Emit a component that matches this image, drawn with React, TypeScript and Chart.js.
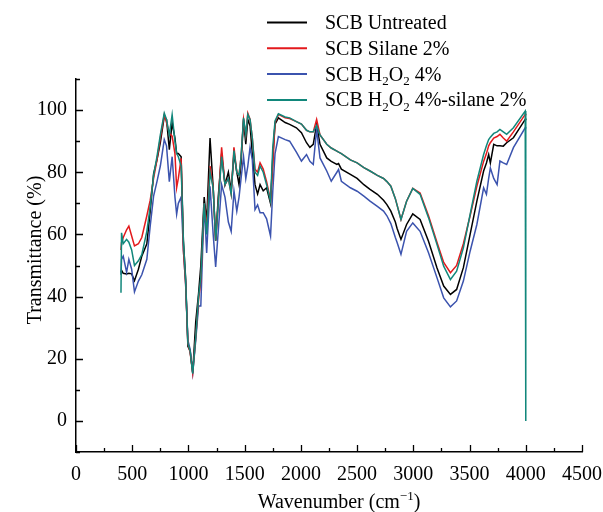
import React, { useEffect, useRef } from "react";
import { Chart, registerables } from "chart.js";
Chart.register(...registerables);

const wavenumbers = [
  400, 405, 420, 450, 470, 495, 520, 555, 585, 630,
  660, 690, 720, 750, 785, 805, 830, 855, 880, 895,
  910, 935, 955, 975, 995, 1015, 1038, 1065, 1090, 1110,
  1140, 1162, 1192, 1220, 1242, 1265, 1295, 1325, 1355, 1380,
  1405, 1430, 1450, 1468, 1490, 1510, 1528, 1548, 1568, 1592,
  1615, 1637, 1665, 1695, 1730, 1750, 1770, 1800, 1860, 1900,
  1960, 2005, 2050, 2080, 2110, 2140, 2170, 2230, 2270, 2320,
  2335, 2360, 2440, 2500, 2560, 2615, 2680, 2735, 2765, 2800,
  2840, 2855, 2890, 2940, 2995, 3060, 3135, 3210, 3270, 3330,
  3385, 3445, 3505, 3565, 3625, 3650, 3670, 3685, 3715, 3745,
  3770, 3800, 3830, 3890, 3995, 4000,
];

const untreated = [
  47.8, 48.5, 47.5, 47.3, 47.5, 47.3, 45.1, 48.8, 53, 57,
  67.5, 79.5, 84, 89.5, 98, 97, 87.3, 95.9, 91, 86,
  86, 85, 58, 46, 24, 22.5, 15.5, 32, 41, 50,
  72, 64, 91, 75, 58, 72, 86, 76, 80, 74,
  86, 80, 76, 83, 97, 89, 97, 95, 86, 76,
  73, 76, 74, 75, 70, 85, 95.5, 97.5, 96, 95.4,
  94.3, 92.7, 89.5, 88, 89, 95.4, 89, 84.6, 83.5, 82.5,
  82.8, 81, 79.3, 78, 76, 74.5, 72.9, 71, 69.6, 67.5,
  64, 62, 58.4, 63.2, 66.6, 64.8, 57.8, 49.3, 43.4, 40.7,
  42.3, 49.3, 60, 70.7, 80.4, 83, 85.7, 83, 89, 88.5,
  88.5, 88.4, 89.5, 91.1, 97, 97.3,
];

const silane2 = [
  55, 57.4, 59, 61.5, 62.7, 59.5, 56.3, 57, 59, 66,
  71, 78, 84, 91, 98.5, 96, 92.5, 91.6, 86, 75,
  78, 84.5, 55, 44, 25, 22, 15.5, 27, 39, 45,
  70, 62, 82, 75, 58, 70, 88, 76, 78, 73,
  88, 80, 79, 85, 97, 92, 99, 97, 91, 81,
  80, 83, 81, 77, 71, 82, 96, 98.6, 97.5, 97.3,
  96.3, 95.5, 93.5, 93, 93, 97, 92, 89, 87.8, 86.8,
  86.5, 86, 84, 83, 81.5, 80.4, 79, 78, 77, 75.5,
  71.5, 69.5, 64.8, 70.7, 74.8, 73.3, 66, 57.5, 51, 47.7,
  50, 57, 66, 75.5, 83.5, 86, 88.5, 89.5, 91, 91.5,
  92.2, 91, 90, 93, 98.6, 98.8,
];

const h2o2 = [
  47, 52, 53, 47.8, 52, 48.8, 41.5, 45, 47, 52,
  62.7, 72.3, 77, 82, 90.5, 88.5, 77, 85, 72, 66.5,
  70, 72, 55, 44, 26, 23, 15.5, 26, 37, 37,
  70, 54, 75.5, 60, 49.5, 61, 76, 72, 64, 61,
  74, 67.5, 72, 78, 85, 78, 82, 88, 84, 68,
  69.5, 67, 67, 65, 59.5, 74, 86, 91.5, 90.5, 90,
  86.5, 83.6, 85.7, 83.5, 82.5, 93.8, 84.6, 80.4, 77.1, 80,
  80.9, 77.1, 75, 73.9, 72.3, 70.7, 69, 67.5, 66, 63.5,
  59, 57.5, 53.6, 61, 63.7, 61, 54.1, 46.1, 39.6, 36.7,
  38.6, 45, 54.6, 63.2, 75, 72.9, 78, 81.4, 78, 76,
  83.6, 83, 82.5, 87.9, 94.3, 94.5,
];

const h2o2Silane = [
  41.2, 60.5, 57, 58.4, 57.5, 55, 50, 51.5, 53.5, 61,
  69, 79, 85, 92, 99, 97, 92, 98.5, 90, 86,
  85, 82, 58, 45, 25, 22.5, 15.2, 27, 40, 46,
  70, 60, 80, 75, 58, 70, 85, 76, 78, 73,
  87, 80, 79, 85, 97.5, 92, 98.6, 97, 91, 80,
  79, 82, 80, 76, 70.7, 88, 96.5, 98.8, 97.8, 97.5,
  96.3, 95.5, 93.5, 93, 93, 95, 92, 89, 87.8, 86.8,
  86.5, 86, 84, 83, 81.5, 80.4, 79, 78, 77, 75.5,
  71.5, 69.5, 64.8, 70.7, 74.8, 72.9, 65.4, 56.8, 49.8, 45.5,
  48.2, 55.7, 66.4, 77.1, 85.7, 88.5, 90.5, 91.3, 92.5, 93,
  93.8, 93, 92.2, 94.3, 99.7, 0,
];

const seriesLabels = [
  "SCB Untreated",
  "SCB Silane 2%",
  "SCB H₂O₂ 4%",
  "SCB H₂O₂ 4%-silane 2%",
];
const seriesValues = [untreated, silane2, h2o2, h2o2Silane];
const seriesColors = ["#000000", "#e3191c", "#3b53ae", "#11877b"];
const seriesOrder = [3, 1, 2, 0];

const xTickValues = [0, 500, 1000, 1500, 2000, 2500, 3000, 3500, 4000, 4500];
const xMinorTickValues = [250, 750, 1250, 1750, 2250, 2750, 3250, 3750, 4250];
const yTickValues = [0, 20, 40, 60, 80, 100];
const yMinorTickValues = [-10, 10, 30, 50, 70, 90, 110];

const xAxisTitle = "Wavenumber (cm⁻¹)";
const yAxisTitle = "Transmittance (%)";

const FONT = "'Liberation Serif', 'Times New Roman', serif";

type Seg = { t: string; mode: "n" | "sub" | "sup" };
function parseRich(text: string): Seg[] {
  const segs: Seg[] = [];
  for (const ch of text) {
    let mode: Seg["mode"] = "n";
    let t = ch;
    if (ch === "₂") { mode = "sub"; t = "2"; }
    else if (ch === "⁻") { mode = "sup"; t = "−"; }
    else if (ch === "¹") { mode = "sup"; t = "1"; }
    const last = segs[segs.length - 1];
    if (last && last.mode === mode) last.t += t;
    else segs.push({ t, mode });
  }
  return segs;
}

function drawRich(ctx: CanvasRenderingContext2D, text: string, x: number, y: number, size: number, align: "left" | "center") {
  const segs = parseRich(text);
  const small = Math.round(size * 0.65);
  const widths = segs.map((s) => {
    ctx.font = `${s.mode === "n" ? size : small}px ${FONT}`;
    return ctx.measureText(s.t).width;
  });
  const total = widths.reduce((a, b) => a + b, 0);
  let cx = align === "center" ? x - total / 2 : x;
  ctx.textAlign = "left";
  ctx.textBaseline = "alphabetic";
  segs.forEach((s, i) => {
    ctx.font = `${s.mode === "n" ? size : small}px ${FONT}`;
    const dy = s.mode === "sub" ? size * 0.22 : s.mode === "sup" ? -size * 0.4 : 0;
    ctx.fillText(s.t, cx, y + dy);
    cx += widths[i];
  });
}

const decorPlugin = {
  id: "decor",
  afterDraw(chart: any) {
    const ctx: CanvasRenderingContext2D = chart.ctx;
    const xs = chart.scales.x;
    const ys = chart.scales.y;
    const area = chart.chartArea;
    ctx.save();
    ctx.strokeStyle = "#000";
    ctx.lineWidth = 1.3;
    ctx.beginPath();
    xTickValues.forEach((v) => {
      const px = Math.round(xs.getPixelForValue(v)) + 0.5;
      ctx.moveTo(px, area.bottom);
      ctx.lineTo(px, area.bottom - 7);
    });
    xMinorTickValues.forEach((v) => {
      const px = Math.round(xs.getPixelForValue(v)) + 0.5;
      ctx.moveTo(px, area.bottom);
      ctx.lineTo(px, area.bottom - 4);
    });
    yTickValues.forEach((v) => {
      const py = Math.round(ys.getPixelForValue(v)) + 0.5;
      ctx.moveTo(area.left, py);
      ctx.lineTo(area.left + 7, py);
    });
    yMinorTickValues.forEach((v) => {
      const py = Math.round(ys.getPixelForValue(v)) + 0.5;
      ctx.moveTo(area.left, py);
      ctx.lineTo(area.left + 4, py);
    });
    ctx.stroke();

    // legend
    ctx.fillStyle = "#000";
    seriesLabels.forEach((label, i) => {
      const ly = 22.5 + i * 25.8;
      ctx.strokeStyle = seriesColors[i];
      ctx.lineWidth = 2;
      ctx.beginPath();
      ctx.moveTo(267, ly);
      ctx.lineTo(307, ly);
      ctx.stroke();
      ctx.fillStyle = "#000";
      drawRich(ctx, label, 325, ly + 6.5, 20, "left");
    });

    // axis titles
    drawRich(ctx, xAxisTitle, 339, 508, 20, "center");
    ctx.translate(41, 250);
    ctx.rotate(-Math.PI / 2);
    drawRich(ctx, yAxisTitle, 0, 0, 20, "center");
    ctx.restore();
  },
};

export default function App() {
  const ref = useRef<HTMLCanvasElement | null>(null);
  useEffect(() => {
    if (!ref.current) return;
    const datasets = seriesValues.map((vals, i) => ({
      label: seriesLabels[i],
      data: wavenumbers.map((w, j) => ({ x: w, y: vals[j] })),
      borderColor: seriesColors[i],
      backgroundColor: seriesColors[i],
      borderWidth: 1.5,
      pointRadius: 0,
      tension: 0,
      fill: false,
      order: seriesOrder[i],
    }));
    const tickFont = { family: FONT, size: 20 };
    const chart = new Chart(ref.current, {
      type: "line",
      data: { datasets },
      plugins: [decorPlugin],
      options: {
        animation: false,
        responsive: false,
        events: [],
        layout: { padding: { top: 79, right: 21, left: 0, bottom: 0 } },
        plugins: { legend: { display: false }, tooltip: { enabled: false } },
        scales: {
          x: {
            type: "linear",
            min: 0,
            max: 4500,
            grid: { display: false, drawTicks: false },
            border: { display: true, color: "#000", width: 1.5 },
            ticks: {
              color: "#000",
              font: tickFont,
              padding: 11,
              maxRotation: 0,
              autoSkip: false,
              callback: (v: any) => String(v),
            },
            afterBuildTicks: (s: any) => {
              s.ticks = xTickValues.map((v) => ({ value: v }));
            },
            afterFit: (s: any) => {
              s.height = 60;
              s.paddingRight = 0;
              s.paddingLeft = 0;
            },
          },
          y: {
            type: "linear",
            min: -10,
            max: 110,
            grid: { display: false, drawTicks: false },
            border: { display: true, color: "#000", width: 1.5 },
            ticks: {
              color: "#000",
              font: tickFont,
              padding: 9,
              autoSkip: false,
              callback: (v: any) => String(v),
            },
            afterBuildTicks: (s: any) => {
              s.ticks = yTickValues.map((v) => ({ value: v }));
            },
            afterFit: (s: any) => {
              s.width = 76;
              s.paddingTop = 0;
              s.paddingBottom = 0;
            },
          },
        },
      } as any,
    });
    return () => chart.destroy();
  }, []);
  return (
    <div style={{ position: "absolute", left: 0, top: 0, width: 603, height: 512, background: "#fff" }}>
      <canvas ref={ref} width={603} height={512} style={{ display: "block" }} />
    </div>
  );
}
